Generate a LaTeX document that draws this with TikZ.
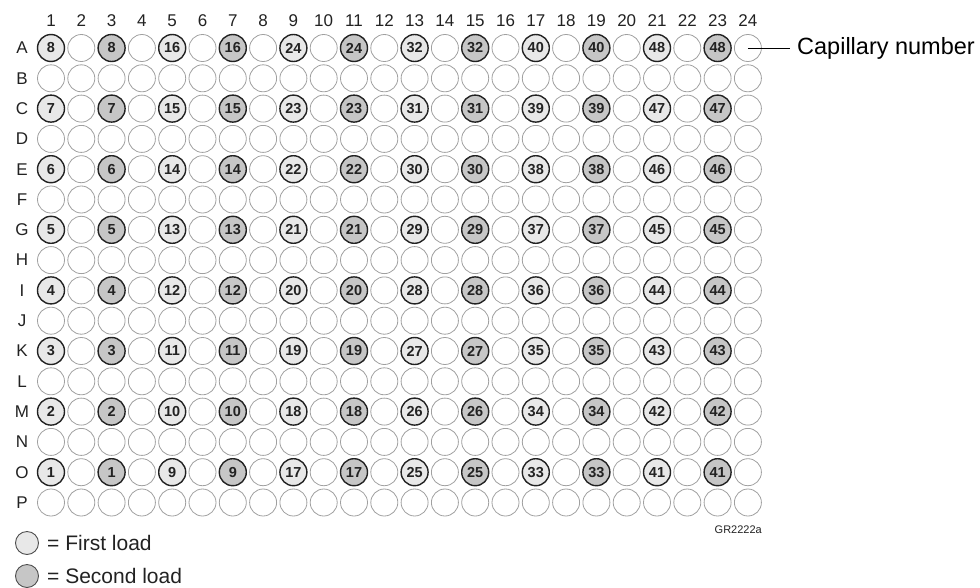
\documentclass[tikz,border=0pt]{standalone}
\usepackage{fontspec}
\setmainfont{Liberation Sans}
\definecolor{firstfill}{HTML}{E8E8E8}
\definecolor{secondfill}{HTML}{C6C6C6}
\definecolor{emptyline}{HTML}{A0A0A0}
\definecolor{inkline}{HTML}{222222}
\begin{document}
\begin{tikzpicture}[x=1pt,y=-1pt,
  well/.style={circle,draw=emptyline,line width=0.8pt,minimum size=27pt,inner sep=0pt},
  numwell/.style={circle,draw=inkline,line width=1.4pt,minimum size=27pt,inner sep=0pt,
    text=inkline,font=\fontsize{14.5}{14.5}\selectfont\bfseries},
  axislbl/.style={inner sep=0pt,text=inkline,font=\fontsize{17}{17}\selectfont},
  legwell/.style={circle,draw=inkline!80,line width=0.9pt,minimum size=23pt,inner sep=0pt},
  legtext/.style={anchor=west,inner sep=0pt,text=inkline,font=\fontsize{21}{21}\selectfont}]
\useasboundingbox (0,0) rectangle (980,587);
% column labels
\foreach \c in {1,...,24}{
  \node[axislbl] (col-\c) at ({51+(\c-1)*30.3},21) {\c};
}
% row labels and wells
\foreach \r [count=\ri] in {A,...,P}{
  \node[axislbl] (row-\r) at (22,{48+(\ri-1)*30.3}) {\r};
  \foreach \c in {1,...,24}{
    \pgfmathtruncatemacro\oddr{mod(\ri,2)}
    \pgfmathtruncatemacro\oddc{mod(\c,2)}
    \pgfmathtruncatemacro\both{\oddr*\oddc}
    \ifnum\both=1
      \pgfmathtruncatemacro\kk{floor((\c-1)/4)}
      \pgfmathtruncatemacro\nn{8*\kk+8-(\ri-1)/2}
      \pgfmathtruncatemacro\ff{mod(\c-1,4)}
      \ifnum\ff=0 \def\fc{firstfill}\else\def\fc{secondfill}\fi
      \node[numwell,fill=\fc] (w-\r-\c) at ({51+(\c-1)*30.3},{48+(\ri-1)*30.3}) {\nn};
    \else
      \node[well] (w-\r-\c) at ({51+(\c-1)*30.3},{48+(\ri-1)*30.3}) {};
    \fi
  }
}
% capillary number callout
\node[anchor=west,inner sep=0pt,text=black,font=\fontsize{23.5}{23.5}\selectfont] (cap) at (797,48) {Capillary number};
\draw[line width=0.9pt,black] (w-A-24.center) -- ([xshift=-7pt]cap.west);
% figure code
\node[anchor=east,inner sep=0pt,text=inkline,font=\fontsize{11}{11}\selectfont] (code) at (762,530) {GR2222a};
% legend
\node[legwell,fill=firstfill] (leg1) at (27,543) {};
\node[legtext] (leg1t) at (47,543) {= First load};
\node[legwell,fill=secondfill] (leg2) at (27,576) {};
\node[legtext] (leg2t) at (47,576) {= Second load};
\end{tikzpicture}
\end{document}
